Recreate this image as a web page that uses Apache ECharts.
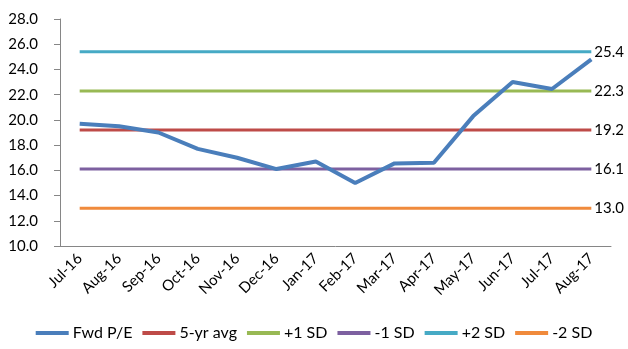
<!DOCTYPE html>
<html>
<head>
<meta charset="utf-8">
<script src="https://cdn.jsdelivr.net/npm/echarts@6/dist/echarts.min.js"></script>
<style>
  html, body { margin: 0; padding: 0; background: #fff; }
  #chart { width: 628px; height: 349px; }
</style>
</head>
<body>
<div id="chart"></div>
<script>
const months = ['Jul-16', 'Aug-16', 'Sep-16', 'Oct-16', 'Nov-16', 'Dec-16', 'Jan-17',
  'Feb-17', 'Mar-17', 'Apr-17', 'May-17', 'Jun-17', 'Jul-17', 'Aug-17']
const fwdPE   = [19.7, 19.5, 19.0, 17.7, 17.0, 16.1, 16.7, 15.0, 16.55, 16.6, 20.3, 23.0, 22.45, 24.8]
const avg5yr  = [19.2, 19.2, 19.2, 19.2, 19.2, 19.2, 19.2, 19.2, 19.2, 19.2, 19.2, 19.2, 19.2, 19.2]
const plus1sd = [22.3, 22.3, 22.3, 22.3, 22.3, 22.3, 22.3, 22.3, 22.3, 22.3, 22.3, 22.3, 22.3, 22.3]
const minus1sd = [16.1, 16.1, 16.1, 16.1, 16.1, 16.1, 16.1, 16.1, 16.1, 16.1, 16.1, 16.1, 16.1, 16.1]
const plus2sd = [25.4, 25.4, 25.4, 25.4, 25.4, 25.4, 25.4, 25.4, 25.4, 25.4, 25.4, 25.4, 25.4, 25.4]
const minus2sd = [13.0, 13.0, 13.0, 13.0, 13.0, 13.0, 13.0, 13.0, 13.0, 13.0, 13.0, 13.0, 13.0, 13.0]

const FONT = 'Lato, "Open Sans", sans-serif'
const axisGray = '#868686'

// horizontal band line with value label at its right end
function bandLine(name, data, color) {
  return {
    name, type: 'line', data,
    symbol: 'none', silent: true,
    lineStyle: { color, width: 3 },
    itemStyle: { color },
    endLabel: {
      show: true, distance: 3,
      color: '#000', fontSize: 15, fontFamily: FONT,
      formatter: p => Number(p.value).toFixed(1),
    },
  }
}

const chart = echarts.init(document.getElementById('chart'), null, { renderer: 'canvas' })
chart.setOption({
  animation: false,
  backgroundColor: '#fff',
  grid: { left: 60, right: 17, top: 19, bottom: 103 },
  legend: {
    bottom: 3, left: 'center',
    icon: 'rect', itemWidth: 33, itemHeight: 4, itemGap: 10,
    textStyle: { color: '#000', fontSize: 16, fontFamily: FONT, padding: [0, 0, 0, -1] },
    data: ['Fwd P/E', '5-yr avg', '+1 SD', '-1 SD', '+2 SD', '-2 SD'],
  },
  xAxis: {
    type: 'category', data: months, boundaryGap: true,
    axisLine: { lineStyle: { color: axisGray, width: 1 } },
    axisTick: { length: 5, lineStyle: { color: axisGray } },
    axisLabel: { rotate: 45, margin: 10, color: '#000', fontSize: 15, fontFamily: FONT, interval: 0 },
    splitLine: { show: false },
  },
  yAxis: {
    type: 'value', min: 10, max: 28, interval: 2,
    axisLine: { show: true, lineStyle: { color: axisGray, width: 1 } },
    axisTick: { show: true, length: 6, lineStyle: { color: axisGray } },
    axisLabel: { margin: 22, color: '#000', fontSize: 15, fontFamily: FONT, formatter: v => v.toFixed(1) },
    splitLine: { show: false },
  },
  series: [
    {
      name: 'Fwd P/E', type: 'line', data: fwdPE, symbol: 'none', z: 5,
      lineStyle: { color: '#4A7EBB', width: 4 },
      itemStyle: { color: '#4A7EBB' },
    },
    bandLine('5-yr avg', avg5yr, '#BE4B48'),
    bandLine('+1 SD', plus1sd, '#98B954'),
    bandLine('-1 SD', minus1sd, '#7D60A0'),
    bandLine('+2 SD', plus2sd, '#46AAC5'),
    bandLine('-2 SD', minus2sd, '#F08A3C'),
  ],
})
</script>
</body>
</html>
